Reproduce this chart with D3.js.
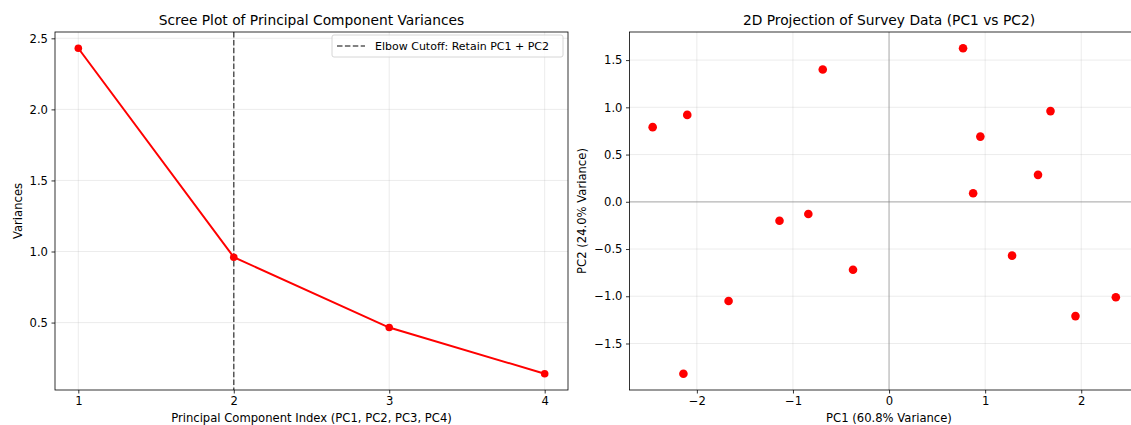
<!DOCTYPE html>
<html><head><meta charset="utf-8">
<script src="https://cdn.jsdelivr.net/npm/d3@7"></script>
<style>body{margin:0;background:#fff;} svg{display:block;font-family:"DejaVu Sans",sans-serif;}</style>
</head><body>
<svg id="chart" width="1131" height="425"></svg>
<script>
// ---- Data ----
const components = [1, 2, 3, 4];
const variances = [2.43, 0.96, 0.465, 0.14];
const screeTicksX = [1, 2, 3, 4];
const screeTicksY = [0.5, 1.0, 1.5, 2.0, 2.5];
const elbowAt = 2;
const elbowLabel = "Elbow Cutoff: Retain PC1 + PC2";

const pc1 = [-2.46, -2.10, -2.14, -1.67, -1.14, -0.84, -0.69, -0.375, 0.77, 0.875, 0.95, 1.28, 1.55, 1.68, 1.94, 2.36];
const pc2 = [0.79, 0.92, -1.82, -1.05, -0.20, -0.13, 1.40, -0.72, 1.625, 0.09, 0.69, -0.57, 0.285, 0.96, -1.21, -1.01];
const projTicksX = [-2, -1, 0, 1, 2];
const projTicksY = [-1.5, -1.0, -0.5, 0.0, 0.5, 1.0, 1.5];

const svg = d3.select("#chart");
const fmt1 = d3.format(".1f");
const fmt0 = d3.format("d");
const TICK_FS = "11.6px", LABEL_FS = "11.6px", TITLE_FS = "13.8px";

function margins(arr, frac) {
  const [a, b] = d3.extent(arr); const m = (b - a) * frac; return [a - m, b + m];
}

function drawAxes(g, x, y, w, h, xt, yt, xf, yf) {
  g.append("g").selectAll("line").data(xt).join("line")
    .attr("x1", d => x(d)).attr("x2", d => x(d)).attr("y1", 0).attr("y2", h)
    .attr("stroke", "#b0b0b0").attr("stroke-opacity", 0.3).attr("stroke-width", 0.8);
  g.append("g").selectAll("line").data(yt).join("line")
    .attr("y1", d => y(d)).attr("y2", d => y(d)).attr("x1", 0).attr("x2", w)
    .attr("stroke", "#b0b0b0").attr("stroke-opacity", 0.3).attr("stroke-width", 0.8);
  const xa = g.append("g").attr("transform", `translate(0,${h})`)
    .call(d3.axisBottom(x).tickValues(xt).tickFormat(xf).tickSize(3.5).tickPadding(3.5));
  const ya = g.append("g")
    .call(d3.axisLeft(y).tickValues(yt).tickFormat(yf).tickSize(3.5).tickPadding(3.5));
  [xa, ya].forEach(a => {
    a.select(".domain").remove();
    a.selectAll("line").attr("stroke", "#000").attr("stroke-width", 0.8);
    a.selectAll("text").attr("fill", "#000").style("font-size", TICK_FS).style("font-family", "DejaVu Sans");
  });
}
function drawFrame(g, w, h) {
  g.append("rect").attr("x", 0).attr("y", 0).attr("width", w).attr("height", h)
    .attr("fill", "none").attr("stroke", "#000").attr("stroke-width", 0.8);
}

// ---- Left: scree plot ----
{
  const L = 55, T = 32, W = 513, H = 358;
  const g = svg.append("g").attr("transform", `translate(${L},${T})`);
  const x = d3.scaleLinear().domain(margins(components, 0.05)).range([0, W]);
  const y = d3.scaleLinear().domain(margins(variances, 0.05)).range([H, 0]);
  drawAxes(g, x, y, W, H, screeTicksX, screeTicksY, fmt0, fmt1);

  g.append("line").attr("x1", x(elbowAt)).attr("x2", x(elbowAt)).attr("y1", 0).attr("y2", H)
    .attr("stroke", "#000").attr("stroke-opacity", 0.65).attr("stroke-width", 1.5).attr("stroke-dasharray", "5.5,2.4");

  const line = d3.line().x((d, i) => x(components[i])).y(d => y(d));
  g.append("path").datum(variances).attr("d", line).attr("fill", "none")
    .attr("stroke", "#ff0000").attr("stroke-width", 2);
  g.selectAll("circle.m").data(variances).join("circle").attr("class", "m")
    .attr("cx", (d, i) => x(components[i])).attr("cy", d => y(d)).attr("r", 3.8).attr("fill", "#ff0000");
  drawFrame(g, W, H);

  const lg = g.append("g").attr("transform", `translate(${W - 236},${3})`);
  lg.append("rect").attr("x", 0).attr("y", 0).attr("width", 231).attr("height", 22).attr("rx", 2)
    .attr("fill", "#fff").attr("fill-opacity", 0.8).attr("stroke", "#cccccc").attr("stroke-width", 0.8);
  lg.append("line").attr("x1", 5).attr("x2", 33).attr("y1", 11).attr("y2", 11)
    .attr("stroke", "#000").attr("stroke-opacity", 0.65).attr("stroke-width", 1.5).attr("stroke-dasharray", "5.5,2.4");
  lg.append("text").attr("x", 43).attr("y", 15).text(elbowLabel)
    .style("font-size", "11px").attr("fill", "#000");

  svg.append("text").attr("x", L + W / 2).attr("y", 25).attr("text-anchor", "middle")
    .style("font-size", TITLE_FS).text("Scree Plot of Principal Component Variances");
  svg.append("text").attr("x", L + W / 2).attr("y", 422).attr("text-anchor", "middle")
    .style("font-size", LABEL_FS).text("Principal Component Index (PC1, PC2, PC3, PC4)");
  svg.append("text").attr("transform", `translate(22,${T + H / 2}) rotate(-90)`).attr("text-anchor", "middle")
    .style("font-size", LABEL_FS).text("Variances");
}

// ---- Right: projection ----
{
  const L = 629.5, T = 32, W = 509.5, H = 358;
  const g = svg.append("g").attr("transform", `translate(${L},${T})`);
  const x = d3.scaleLinear().domain(margins(pc1, 0.05)).range([0, W]);
  const y = d3.scaleLinear().domain(margins(pc2, 0.05)).range([H, 0]);
  drawAxes(g, x, y, W, H, projTicksX, projTicksY, fmt0, fmt1);
  g.append("line").attr("x1", x(0)).attr("x2", x(0)).attr("y1", 0).attr("y2", H)
    .attr("stroke", "#808080").attr("stroke-opacity", 0.5).attr("stroke-width", 1.2);
  g.append("line").attr("y1", y(0)).attr("y2", y(0)).attr("x1", 0).attr("x2", W)
    .attr("stroke", "#808080").attr("stroke-opacity", 0.5).attr("stroke-width", 1.2);
  g.selectAll("circle.p").data(pc1).join("circle").attr("class", "p")
    .attr("cx", d => x(d)).attr("cy", (d, i) => y(pc2[i])).attr("r", 4.3).attr("fill", "#ff0000");
  drawFrame(g, W, H);

  svg.append("text").attr("x", 889).attr("y", 25).attr("text-anchor", "middle")
    .style("font-size", TITLE_FS).text("2D Projection of Survey Data (PC1 vs PC2)");
  svg.append("text").attr("x", 889).attr("y", 422).attr("text-anchor", "middle")
    .style("font-size", LABEL_FS).text("PC1 (60.8% Variance)");
  svg.append("text").attr("transform", `translate(586,${T + H / 2}) rotate(-90)`).attr("text-anchor", "middle")
    .style("font-size", LABEL_FS).text("PC2 (24.0% Variance)");
}
</script>
</body></html>
